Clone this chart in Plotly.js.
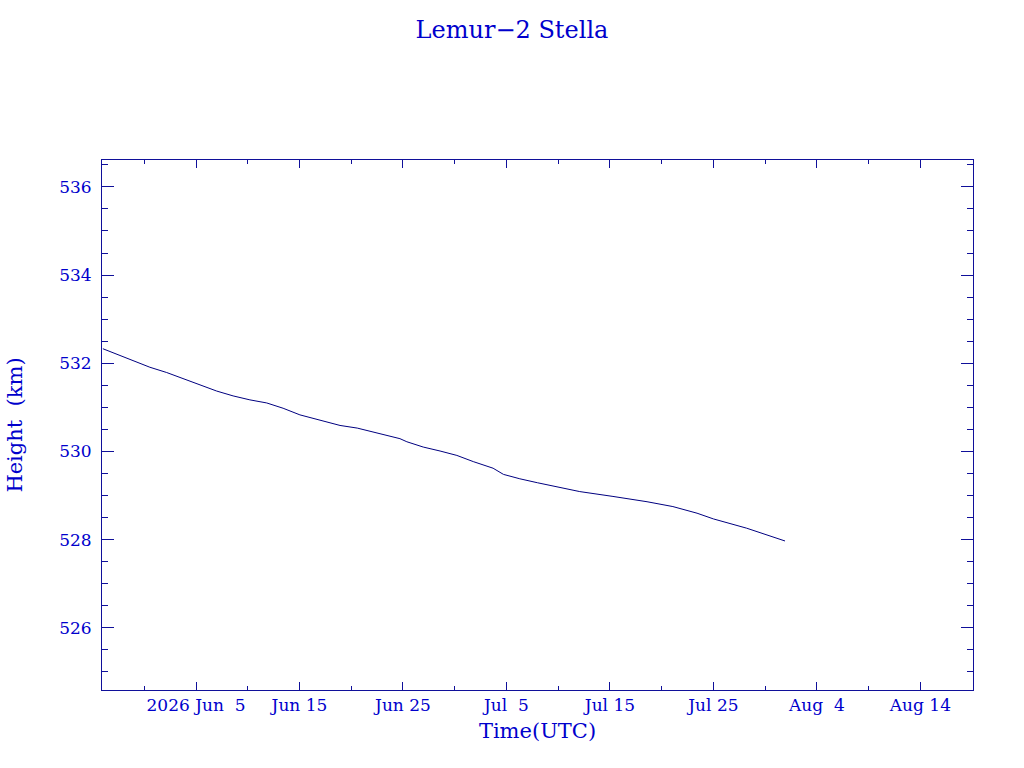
<!DOCTYPE html>
<html>
<head>
<meta charset="utf-8">
<script src="https://cdn.plot.ly/plotly-3.0.1.min.js"></script>
<style>
  html, body { margin: 0; padding: 0; background: #fff; }
  #chart { width: 1024px; height: 768px; }
</style>
</head>
<body>
<div id="chart"></div>
<script>
// Orbit height readings (UTC)
const times = [
    '2026-05-27 00:00', '2026-05-28 08:00', '2026-05-29 23:00', '2026-05-31 13:00',
    '2026-06-02 04:00', '2026-06-03 19:00', '2026-06-05 09:00', '2026-06-07 00:00',
    '2026-06-08 14:00', '2026-06-10 05:00', '2026-06-11 20:00', '2026-06-13 10:00',
    '2026-06-15 01:00', '2026-06-17 07:00', '2026-06-18 22:00', '2026-06-20 14:00',
    '2026-06-22 03:00', '2026-06-23 18:00', '2026-06-24 17:00', '2026-06-25 09:00',
    '2026-06-26 23:00', '2026-06-28 14:00', '2026-06-30 05:00', '2026-07-01 19:00',
    '2026-07-03 17:00', '2026-07-04 17:00', '2026-07-06 07:00', '2026-07-08 00:00',
    '2026-07-12 02:00', '2026-07-15 07:00', '2026-07-18 14:00', '2026-07-21 02:00',
    '2026-07-23 10:00', '2026-07-25 00:00', '2026-07-28 05:00', '2026-07-31 22:00'
];
const heights = [
    532.33, 532.21, 532.06, 531.91,
    531.79, 531.65, 531.51, 531.37,
    531.26, 531.17, 531.10, 530.98,
    530.83, 530.69, 530.59, 530.53,
    530.44, 530.34, 530.29, 530.22,
    530.10, 530.01, 529.91, 529.77,
    529.62, 529.48, 529.38, 529.29,
    529.09, 528.98, 528.86, 528.75,
    528.60, 528.47, 528.26, 527.97
];

// Tick labels on the time axis
const tickDates = ['2026-06-05', '2026-06-15', '2026-06-25', '2026-07-05',
                   '2026-07-15', '2026-07-25', '2026-08-04', '2026-08-14'];
const tickLabels = ['2026 Jun \u00a05', 'Jun 15', 'Jun 25', 'Jul \u00a05',
                    'Jul 15', 'Jul 25', 'Aug \u00a04', 'Aug 14'];

const textBlue = '#0000cc';
const axisBlue = '#10109a';
const fontFace = 'DejaVu Serif';

const data = [{
    type: 'scatter',
    mode: 'lines',
    x: times,
    y: heights,
    line: { color: '#000080', width: 1 },
    hoverinfo: 'x+y'
}];

const layout = {
    width: 1024,
    height: 768,
    paper_bgcolor: '#ffffff',
    plot_bgcolor: '#ffffff',
    showlegend: false,
    margin: { l: 102, r: 51, t: 160, b: 78 },
    font: { family: fontFace, color: textBlue, size: 17 },
    title: {
        text: 'Lemur\u22122 Stella',
        font: { family: fontFace, size: 24, color: textBlue },
        x: 0.5,
        xanchor: 'center',
        y: 0.962,
        yanchor: 'middle'
    },
    xaxis: {
        type: 'date',
        range: ['2026-05-26 22:00', '2026-08-19 02:00'],
        tickmode: 'array',
        tickvals: tickDates,
        ticktext: tickLabels,
        ticks: 'inside',
        ticklen: 8,
        tickwidth: 1,
        tickcolor: axisBlue,
        minor: {
            tickmode: 'linear',
            tick0: '2026-05-31',
            dtick: 5 * 86400000,
            ticks: 'inside',
            ticklen: 4,
            tickcolor: axisBlue,
            showgrid: false
        },
        showline: true,
        linecolor: axisBlue,
        linewidth: 1,
        mirror: 'allticks',
        showgrid: false,
        zeroline: false,
        tickfont: { family: fontFace, size: 17, color: textBlue },
        title: {
            text: 'Time(UTC)',
            font: { family: fontFace, size: 21, color: textBlue },
            standoff: 8
        }
    },
    yaxis: {
        range: [524.59, 536.61],
        tickmode: 'linear',
        tick0: 526,
        dtick: 2,
        ticks: 'inside',
        ticklen: 12,
        tickwidth: 1,
        tickcolor: axisBlue,
        minor: {
            dtick: 0.5,
            ticks: 'inside',
            ticklen: 6,
            tickcolor: axisBlue,
            showgrid: false
        },
        showline: true,
        linecolor: axisBlue,
        linewidth: 1,
        mirror: 'allticks',
        showgrid: false,
        zeroline: false,
        ticklabelstandoff: 6,
        tickfont: { family: fontFace, size: 17, color: textBlue },
        title: {
            text: 'Height\u00a0 (km)',
            font: { family: fontFace, size: 21, color: textBlue },
            standoff: 30
        }
    }
};

Plotly.newPlot('chart', data, layout, { displayModeBar: false, responsive: false });
</script>
</body>
</html>
